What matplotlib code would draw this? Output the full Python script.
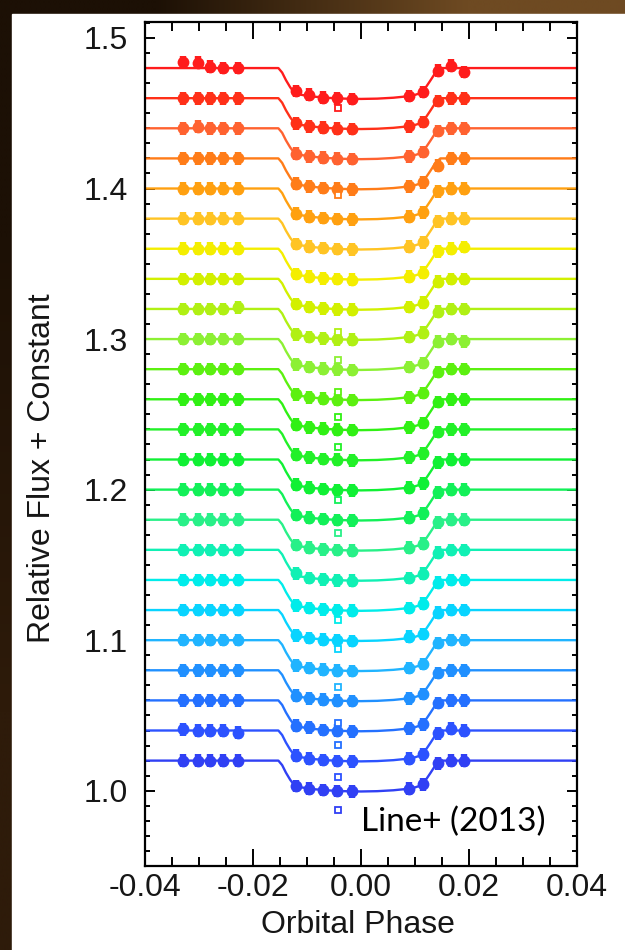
import numpy as np
import matplotlib
matplotlib.use("Agg")
import matplotlib.pyplot as plt
from matplotlib.ticker import MultipleLocator, FormatStrFormatter
from matplotlib.patches import Rectangle

# baseline level of each spectral light curve (top = red, bottom = blue)
baselines = [1.48, 1.46, 1.44, 1.42, 1.40, 1.38, 1.36, 1.34, 1.32, 1.30, 1.28, 1.26,
             1.24, 1.22, 1.20, 1.18, 1.16, 1.14, 1.12, 1.10, 1.08, 1.06, 1.04, 1.02]
curve_colors = ['#ff1c1c', '#ff3018', '#ff6230', '#ff7c18', '#ffa010', '#ffc424',
                '#f4ee00', '#d2f000', '#b0f014', '#8cf034', '#5cf010', '#30f014',
                '#22f028', '#10f034', '#12f058', '#28f088', '#10f0b4', '#00ecea',
                '#08d4ff', '#20b4ff', '#2090ff', '#2470ff', '#2c52ff', '#3040f4']

# transit model, drop below baseline vs orbital phase
model_phase = [-0.0400, -0.0153, -0.0146, -0.0139, -0.0131, -0.0123, -0.0110, -0.0090,
               -0.0060, -0.0030, 0.0000, 0.0030, 0.0060, 0.0085, 0.0100, 0.0111,
               0.0120, 0.0129, 0.0138, 0.0147, 0.0400]
model_dip = [0.0, 0.0, 0.0030, 0.0080, 0.0128, 0.0165, 0.0178, 0.0189,
             0.0198, 0.0203, 0.0205, 0.0203, 0.0197, 0.0188, 0.0178, 0.0165,
             0.0128, 0.0080, 0.0030, 0.0, 0.0]

# observation groups (three HST orbits, five blobs each)
blob_phase = [-0.0330, -0.0302, -0.0280, -0.0255, -0.0227,
              -0.0120, -0.0096, -0.0071, -0.0045, -0.0017,
              0.0088, 0.0114, 0.0143, 0.0167, 0.0191]
blob_dip = [0.0, 0.0, 0.0, 0.0, 0.0,
            0.0168, 0.0186, 0.0196, 0.0202, 0.0205,
            0.0186, 0.0158, 0.0018, 0.0, 0.0]
# (curve, blob, offset) for groups visibly off the model
blob_offsets = [(0, 0, 0.0040), (0, 1, 0.0035), (0, 2, 0.0010), (0, 5, 0.0015),
                (0, 6, 0.0010), (0, 13, 0.0015), (0, 14, -0.0025), (2, 1, 0.0010),
                (3, 12, -0.0030), (6, 14, 0.0012), (8, 4, 0.0010), (9, 14, -0.0015),
                (16, 5, 0.0012), (18, 10, 0.0010), (22, 0, 0.0008), (22, 4, -0.0015),
                (22, 13, 0.0012), (21, 6, 0.0008)]

# flagged (open square) points near phase -0.0043
flag_phase = -0.0043
flag_curve = [0, 3, 8, 9, 10, 11, 12, 14, 15, 17, 18, 19, 21, 21, 22, 23]
flag_flux = [1.4535, 1.396, 1.305, 1.286, 1.265, 1.248, 1.228, 1.193, 1.171,
             1.1135, 1.094, 1.069, 1.045, 1.0305, 1.0093, 0.987]

plt.rcParams['font.family'] = ['Liberation Sans', 'DejaVu Sans']
plt.rcParams['axes.unicode_minus'] = False

fig = plt.figure(figsize=(6.25, 9.5), dpi=100)

# slide background: dark brown frame with a white panel
bg = fig.add_axes([0, 0, 1, 1], zorder=-5)
corners = np.array([[[0x1c, 0x10, 0x05], [0x6e, 0x4a, 0x22]],
                    [[0x2e, 0x1b, 0x0a], [0x3a, 0x24, 0x0f]]]) / 255.0
bg.imshow(corners, extent=[0, 1, 0, 1], aspect='auto', interpolation='bilinear')
bg.add_patch(Rectangle((12 / 625, 0), 1, 1 - 14 / 950, color='white'))
bg.set_xlim(0, 1)
bg.set_ylim(0, 1)
bg.axis('off')

ax = fig.add_axes([145 / 625, 84 / 950, 432 / 625, 844 / 950])

for i, base in enumerate(baselines):
    col = curve_colors[i]
    ax.plot(model_phase, [base - d for d in model_dip], color=col, lw=1.7, zorder=2)
    ys = [base - d for d in blob_dip]
    for c, b, dy in blob_offsets:
        if c == i:
            ys[b] += dy
    ax.errorbar(blob_phase, ys, yerr=0.0042, fmt='o', ms=8.5, color=col,
                ecolor=col, elinewidth=4.6, capsize=0, mew=0, zorder=3)

for c, f in zip(flag_curve, flag_flux):
    ax.plot(flag_phase, f, 's', ms=3.8, mfc='white', mec=curve_colors[c], mew=1.3,
            zorder=4)

ax.set_xlim(-0.04, 0.04)
ax.set_ylim(0.950, 1.5106)
ax.xaxis.set_major_locator(MultipleLocator(0.02))
ax.xaxis.set_minor_locator(MultipleLocator(0.005))
ax.yaxis.set_major_locator(MultipleLocator(0.1))
ax.yaxis.set_minor_locator(MultipleLocator(0.01))
ax.xaxis.set_major_formatter(FormatStrFormatter('%.2f'))
ax.yaxis.set_major_formatter(FormatStrFormatter('%.1f'))

ax.tick_params(which='both', direction='in', top=True, right=True, width=1.4,
               color='black', labelsize=23, labelcolor='#161616')
ax.tick_params(axis='x', which='major', length=12, pad=5)
ax.tick_params(axis='x', which='minor', length=6.5)
ax.tick_params(axis='y', which='major', length=7, pad=12)
ax.tick_params(axis='y', which='minor', length=3.6)
for sp in ax.spines.values():
    sp.set_linewidth(1.6)

fig.text(42 / 625, 1 - 468 / 950, 'Relative Flux + Constant', rotation=90,
         ha='center', va='center', fontsize=23, color='#161616')
fig.text(358 / 625, 1 - 925 / 950, 'Orbital Phase', ha='center', va='center',
         fontsize=23, color='#161616')
ax.text(0.0171, 0.9794, 'Line+ (2013)', ha='center', va='center', fontsize=24,
        family=['Lato', 'DejaVu Sans'], color='black')

fig.savefig('out.png', dpi=100)
